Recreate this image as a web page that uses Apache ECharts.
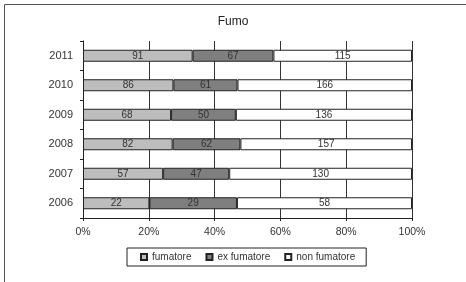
<!DOCTYPE html>
<html>
<head>
<meta charset="utf-8">
<script src="https://cdn.jsdelivr.net/npm/echarts@6/dist/echarts.min.js"></script>
<style>
  html, body { margin: 0; padding: 0; background: #fff; }
  #chart { width: 466px; height: 282px; }
</style>
</head>
<body>
<div id="chart"></div>
<script>
// anni, dal basso verso l'alto
var years = ["2006", "2007", "2008", "2009", "2010", "2011"];
var fumatore = [22, 57, 82, 68, 86, 91];
var exFumatore = [29, 47, 62, 50, 61, 67];
var nonFumatore = [58, 130, 157, 136, 166, 115];
var xTicks = ["0%", "20%", "40%", "60%", "80%", "100%"];

var font = "Liberation Sans, Arial, sans-serif";

// percentuali per il grafico al 100%
function toPct(arr) {
  return arr.map(function (v, i) {
    var tot = fumatore[i] + exFumatore[i] + nonFumatore[i];
    return (v / tot) * 100;
  });
}

function makeSeries(name, raw, color) {
  return {
    name: name,
    type: "bar",
    stack: "tot",
    barWidth: 12,
    data: toPct(raw),
    itemStyle: { color: color, borderColor: "#222", borderWidth: 1 },
    label: {
      show: true,
      position: "inside",
      color: "#333",
      fontFamily: font,
      fontSize: 10,
      formatter: function (p) { return raw[p.dataIndex]; }
    }
  };
}

var chart = echarts.init(document.getElementById("chart"));
chart.setOption({
  animation: false,
  backgroundColor: "#fff",
  title: {
    text: "Fumo",
    left: "center",
    top: 11,
    textStyle: { fontFamily: font, fontSize: 12, fontWeight: "normal", color: "#222" }
  },
  graphic: [{
    type: "rect",
    shape: { x: 4.5, y: 4.5, width: 470, height: 290 },
    style: { fill: "none", stroke: "#555", lineWidth: 1 },
    silent: true
  }],
  grid: { left: 83, right: 54, top: 41, bottom: 64 },
  xAxis: {
    type: "value",
    min: 0,
    max: 100,
    interval: 20,
    axisLine: { show: true, lineStyle: { color: "#222" } },
    axisTick: { show: true, length: 3, lineStyle: { color: "#222" } },
    axisLabel: {
      margin: 9,
      fontFamily: font,
      fontSize: 10.5,
      color: "#333",
      formatter: function (v) { return xTicks[Math.round(v / 20)]; }
    },
    splitLine: { show: true, lineStyle: { color: "#333", width: 1 } }
  },
  yAxis: {
    type: "category",
    data: years,
    axisLine: { show: true, lineStyle: { color: "#222" } },
    axisTick: { show: true, length: 3, lineStyle: { color: "#222" } },
    axisLabel: { margin: 10, fontFamily: font, fontSize: 11, color: "#333" }
  },
  legend: {
    data: ["fumatore", "ex fumatore", "non fumatore"],
    left: 127,
    top: 248,
    orient: "horizontal",
    icon: "rect",
    itemWidth: 6,
    itemHeight: 6,
    itemGap: 14,
    padding: [4, 11, 4, 13],
    borderColor: "#222",
    borderWidth: 1,
    textStyle: { fontFamily: font, fontSize: 10, color: "#333" }
  },
  series: [
    makeSeries("fumatore", fumatore, "#bdbdbd"),
    makeSeries("ex fumatore", exFumatore, "#7f7f7f"),
    makeSeries("non fumatore", nonFumatore, "#ffffff")
  ]
});
</script>
</body>
</html>
